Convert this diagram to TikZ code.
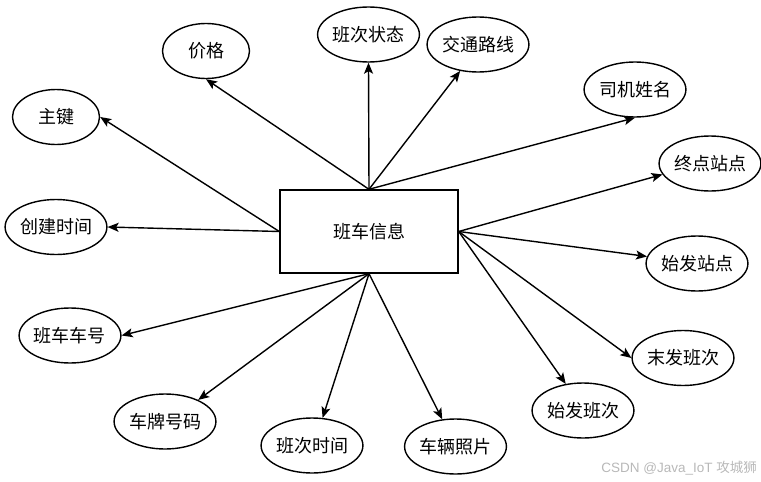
\documentclass[tikz,border=0pt]{standalone}
\usepackage{fontspec}
\setmainfont{Noto Sans CJK SC}
\newfontfamily\wmfont{Liberation Sans}
\usetikzlibrary{shapes.geometric,arrows.meta}
\begin{document}
\begin{tikzpicture}[x=1pt,y=-1pt,
  attr/.style={draw,line width=1.4pt,ellipse,minimum width=87pt,minimum height=55pt,inner sep=0pt,font=\fontsize{18}{18}\selectfont},
  ent/.style={draw,line width=1.4pt,rectangle,minimum width=178pt,minimum height=83pt,inner sep=0pt,font=\fontsize{18}{18}\selectfont},
  conn/.style={line width=1.4pt,-{Stealth[length=11pt,width=9pt,inset=2.5pt]}}]
\useasboundingbox (0,0) rectangle (761,482);
\node[ent] (c) at (369,231.5) {班车信息};
\node[attr] (jg) at (206,51) {价格};
\node[attr] (bczt) at (368.5,34.5) {班次状态};
\node[attr] (jtlx) at (478,44.5) {交通路线};
\node[attr] (sjxm) at (635,89.5) {司机姓名};
\node[attr] (zj) at (56,117) {主键};
\node[attr] (cjsj) at (56,227) {创建时间};
\node[attr] (zdzd) at (710,163.5) {终点站点};
\node[attr] (sfzd) at (697,263.5) {始发站点};
\node[attr] (mfbc) at (683,358) {末发班次};
\node[attr] (sfbc) at (583,410.5) {始发班次};
\node[attr] (clzp) at (455.5,446.5) {车辆照片};
\node[attr] (bcch) at (70,335.5) {班车车号};
\node[attr] (cphm) at (165,421.5) {车牌号码};
\node[attr] (bcsj) at (312,445.5) {班次时间};
\node[text=black!28,font=\wmfont\fontsize{13.5}{15}\selectfont,anchor=east,inner sep=0pt] (wm) at (757,468) {CSDN @Java\_IoT {\rmfamily 攻城狮}};
\draw[conn] (c.north) -- (jg.south);
\draw[conn] (c.north) -- (bczt.south);
\draw[conn] (c.north) -- (jtlx.-124);
\draw[conn] (c.north) -- (sjxm.south);
\draw[conn] (c.west) -- (zj.east);
\draw[conn] (c.west) -- (cjsj.east);
\draw[conn] (c.east) -- (zdzd.193);
\draw[conn] (c.east) -- (sfzd.172);
\draw[conn] (c.east) -- (mfbc.west);
\draw[conn] (c.east) -- (sfbc.123);
\draw[conn] (c.south) -- (clzp.116);
\draw[conn] (c.south) -- (bcch.east);
\draw[conn] (c.south) -- (cphm.33);
\draw[conn] (c.south) -- (bcsj.69);
\end{tikzpicture}
\end{document}
